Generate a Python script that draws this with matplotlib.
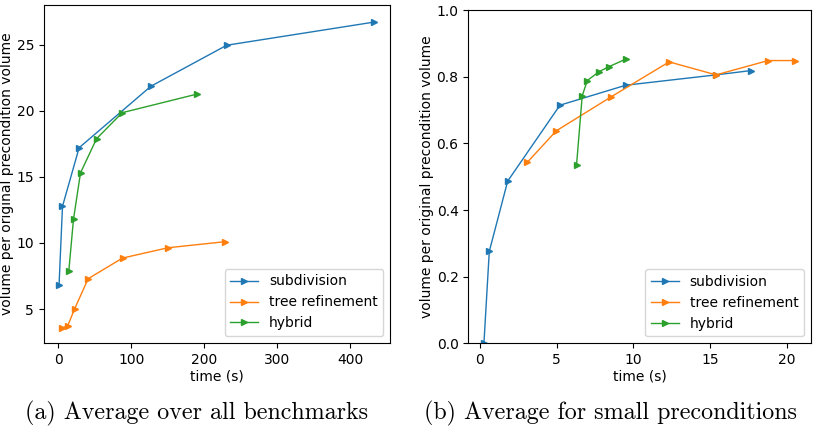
import matplotlib
matplotlib.use("Agg")
import matplotlib.pyplot as plt
from matplotlib.ticker import MultipleLocator

# (a) average over all benchmarks
sub_t_all = [0.8, 5.5, 28.3, 126.8, 230.8, 433.0]
sub_v_all = [6.84, 12.77, 17.2, 21.85, 24.95, 26.7]
tree_t_all = [5.5, 12.8, 22.0, 40.7, 87.9, 150.5, 229.0]
tree_v_all = [3.58, 3.76, 5.0, 7.3, 8.86, 9.64, 10.1]
hyb_t_all = [14.1, 20.6, 30.2, 52.2, 87.4, 189.6]
hyb_v_all = [7.85, 11.8, 15.3, 17.88, 19.85, 21.25]

# (b) average for small preconditions
sub_t_small = [0.26, 0.61, 1.81, 5.22, 9.52, 15.4, 17.7]
sub_v_small = [0.0, 0.276, 0.487, 0.715, 0.775, 0.806, 0.819]
tree_t_small = [3.09, 4.98, 8.52, 12.34, 15.4, 18.8, 20.55]
tree_v_small = [0.5435, 0.638, 0.739, 0.845, 0.806, 0.849, 0.849]
hyb_t_small = [6.3, 6.67, 7.0, 7.78, 8.43, 9.5]
hyb_v_small = [0.535, 0.743, 0.789, 0.816, 0.831, 0.853]

labels = ["subdivision", "tree refinement", "hybrid"]
captions = ["(a) Average over all benchmarks", "(b) Average for small preconditions"]

plt.rcParams["font.size"] = 10

fig = plt.figure(figsize=(8.13, 4.28), dpi=100)
ax1 = fig.add_axes([0.054, 0.199, 0.426, 0.789])
ax2 = fig.add_axes([0.576, 0.198, 0.4215, 0.778])

style = dict(marker=">", markersize=5, linewidth=1)

ax1.plot(sub_t_all, sub_v_all, label=labels[0], **style)
ax1.plot(tree_t_all, tree_v_all, label=labels[1], **style)
ax1.plot(hyb_t_all, hyb_v_all, label=labels[2], **style)
ax1.set_xlim(-20, 455)
ax1.set_ylim(2.45, 27.98)

ax2.plot(sub_t_small, sub_v_small, label=labels[0], **style)
ax2.plot(tree_t_small, tree_v_small, label=labels[1], **style)
ax2.plot(hyb_t_small, hyb_v_small, label=labels[2], **style)
ax2.set_xlim(-0.76, 21.59)
ax2.set_ylim(0, 1.0)
ax2.xaxis.set_major_locator(MultipleLocator(5))

for ax in (ax1, ax2):
    ax.set_xlabel("time (s)", labelpad=2)
    ax.set_ylabel("volume per original precondition volume", labelpad=1.5)
    ax.legend(loc="lower right", fontsize=10)

fig.text(0.242, 0.033, captions[0], ha="center", va="center",
         family="cmr10", fontsize=17.3)
fig.text(0.751, 0.033, captions[1], ha="center", va="center",
         family="cmr10", fontsize=17.3)

fig.savefig("out.png", dpi=100)
